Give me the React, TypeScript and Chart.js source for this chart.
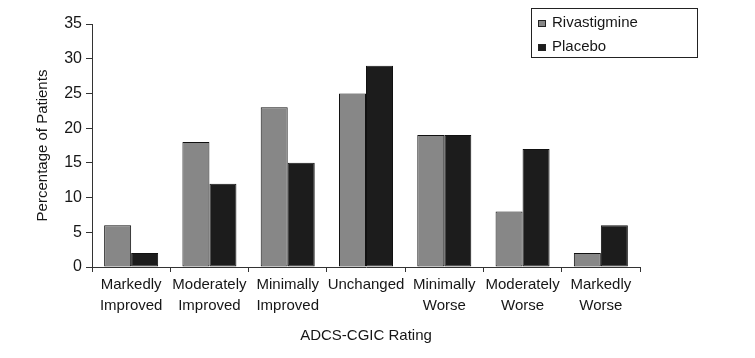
import React, { useEffect, useRef } from "react";
import { Chart, registerables } from "chart.js";

Chart.register(...registerables);

const categories: string[][] = [
  ["Markedly", "Improved"],
  ["Moderately", "Improved"],
  ["Minimally", "Improved"],
  ["Unchanged"],
  ["Minimally", "Worse"],
  ["Moderately", "Worse"],
  ["Markedly", "Worse"],
];
const rivastigmine = [6, 18, 23, 25, 19, 8, 2];
const placebo = [2, 12, 15, 29, 19, 17, 6];
const seriesNames = ["Rivastigmine", "Placebo"];
const seriesColors = ["#878787", "#1c1c1c"];
const yTitle = "Percentage of Patients";
const xTitle = "ADCS-CGIC Rating";

const FONT = "'Liberation Sans', Arial, sans-serif";
const TEXT = "#161616";
const FS = 15;

const legendPlugin = {
  id: "boxLegend",
  afterDraw(chart: any) {
    const ctx = chart.ctx;
    ctx.save();
    ctx.strokeStyle = "#222";
    ctx.lineWidth = 1;
    ctx.strokeRect(531.5, 8.5, 166, 49);
    ctx.font = `${FS}px ${FONT}`;
    ctx.textBaseline = "alphabetic";
    ctx.textAlign = "left";
    const rows = [27, 51];
    seriesNames.forEach((name, i) => {
      const y = rows[i];
      ctx.fillStyle = seriesColors[i];
      ctx.fillRect(538, y - 7, 8, 7);
      ctx.strokeStyle = "#222";
      ctx.strokeRect(538.5, y - 6.5, 7, 6);
      ctx.fillStyle = TEXT;
      ctx.fillText(name, 552, y);
    });
    ctx.restore();
  },
};

export default function App() {
  const ref = useRef<HTMLCanvasElement>(null);
  useEffect(() => {
    if (!ref.current) return;
    const chart = new Chart(ref.current, {
      type: "bar",
      data: {
        labels: categories,
        datasets: [
          {
            label: seriesNames[0],
            data: rivastigmine,
            backgroundColor: seriesColors[0],
            borderColor: "#111",
            borderWidth: 1,
            borderSkipped: false,
          },
          {
            label: seriesNames[1],
            data: placebo,
            backgroundColor: seriesColors[1],
            borderColor: "#111",
            borderWidth: 1,
            borderSkipped: false,
          },
        ],
      },
      options: {
        animation: false,
        responsive: false,
        maintainAspectRatio: false,
        layout: { padding: { left: 0, top: 24, right: 115, bottom: 0 } },
        datasets: { bar: { barPercentage: 1, categoryPercentage: 0.69 } },
        plugins: { legend: { display: false }, tooltip: { enabled: false } },
        scales: {
          x: {
            offset: true,
            grid: {
              offset: true,
              drawOnChartArea: false,
              drawTicks: true,
              tickLength: 5,
              color: "#333",
            },
            border: { display: true, color: "#333", width: 1 },
            ticks: {
              color: TEXT,
              font: { family: FONT, size: FS, lineHeight: 1.35 },
              padding: 3,
              maxRotation: 0,
              autoSkip: false,
            },
            title: {
              display: true,
              text: xTitle,
              color: TEXT,
              font: { family: FONT, size: FS },
              padding: { top: 0, bottom: 13 },
            },
            afterFit: (s: any) => {
              s.height = 91;
            },
          },
          y: {
            min: 0,
            max: 35,
            ticks: {
              stepSize: 5,
              color: TEXT,
              font: { family: FONT, size: 16 },
              padding: 4,
            },
            grid: {
              drawOnChartArea: false,
              drawTicks: true,
              tickLength: 6,
              color: "#333",
            },
            border: { display: true, color: "#333", width: 1 },
            title: {
              display: true,
              text: yTitle,
              color: TEXT,
              font: { family: FONT, size: FS },
              padding: { top: 34, bottom: 0 },
            },
            afterFit: (s: any) => {
              s.width = 92;
            },
          },
        },
      },
      plugins: [legendPlugin],
    });
    return () => chart.destroy();
  }, []);
  return (
    <div style={{ position: "fixed", left: 0, top: 0, width: 755, height: 358, background: "#fff" }}>
      <canvas ref={ref} width={755} height={358} style={{ width: 755, height: 358 }} />
    </div>
  );
}
